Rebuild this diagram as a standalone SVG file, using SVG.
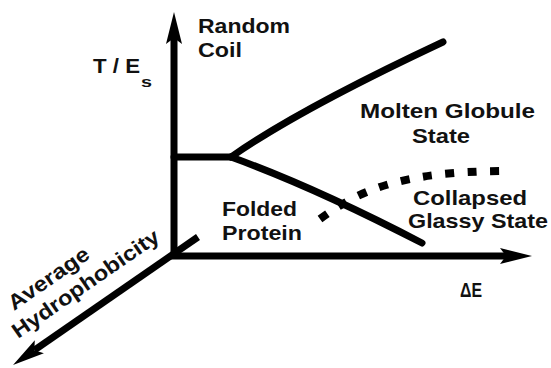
<svg xmlns="http://www.w3.org/2000/svg" width="551" height="368" viewBox="0 0 551 368">
<style>
.ax{fill:none;stroke:#000;stroke-width:7}
.ph{fill:none;stroke:#000;stroke-width:7;stroke-linecap:round}
.dash{fill:none;stroke:#000;stroke-width:8;stroke-dasharray:9 13.5}
text{font-family:"Liberation Sans",Arial,sans-serif;font-weight:bold;font-size:21px;fill:#111}
</style>
<defs>
<marker id="ah" markerUnits="userSpaceOnUse" viewBox="-8 -10 36 20" refX="0" refY="0" markerWidth="36" markerHeight="20" orient="auto" overflow="visible">
<path d="M26,0 L-6,-8 L0,0 L-6,8 Z" fill="#000"/>
</marker>
</defs>
<rect width="551" height="368" fill="#fff"/>
<g id="axes">
<path class="ax" d="M174,259 L174,38" marker-end="url(#ah)"/>
<path class="ax" d="M171,256 L506,256" marker-end="url(#ah)"/>
<path class="ax" d="M198,237 L34.4,350.2" marker-end="url(#ah)"/>
</g>
<g id="boundaries">
<path class="dash" d="M320,219 C360,190 400,172 502,171"/>
<path class="ph" d="M174,157 L231,157"/>
<path class="ph" d="M231,157 Q298,110 443,42"/>
<path class="ph" d="M231,157 Q314,187 422,243"/>
</g>
<g id="labels">
<text x="198" y="33" textLength="92" lengthAdjust="spacingAndGlyphs">Random</text>
<text x="198" y="57" textLength="44" lengthAdjust="spacingAndGlyphs">Coil</text>
<text x="93" y="73" textLength="47" lengthAdjust="spacingAndGlyphs" style="font-size:20px">T / E</text>
<text x="141" y="87" textLength="11" lengthAdjust="spacingAndGlyphs" style="font-size:15px">s</text>
<text x="360" y="118" textLength="175" lengthAdjust="spacingAndGlyphs">Molten Globule</text>
<text x="412" y="143" textLength="58" lengthAdjust="spacingAndGlyphs">State</text>
<text x="222" y="216" textLength="75" lengthAdjust="spacingAndGlyphs">Folded</text>
<text x="222" y="240" textLength="80" lengthAdjust="spacingAndGlyphs">Protein</text>
<text x="413" y="205" textLength="114" lengthAdjust="spacingAndGlyphs">Collapsed</text>
<text x="408" y="228" textLength="140" lengthAdjust="spacingAndGlyphs">Glassy State</text>
<text x="460" y="297" textLength="22" lengthAdjust="spacingAndGlyphs" style="font-size:20px">ΔE</text>
<text transform="translate(14,311) rotate(-34.7)" textLength="94" lengthAdjust="spacingAndGlyphs">Average</text>
<text transform="translate(18,339) rotate(-34.7)" textLength="174" lengthAdjust="spacingAndGlyphs">Hydrophobicity</text>
</g>
</svg>
